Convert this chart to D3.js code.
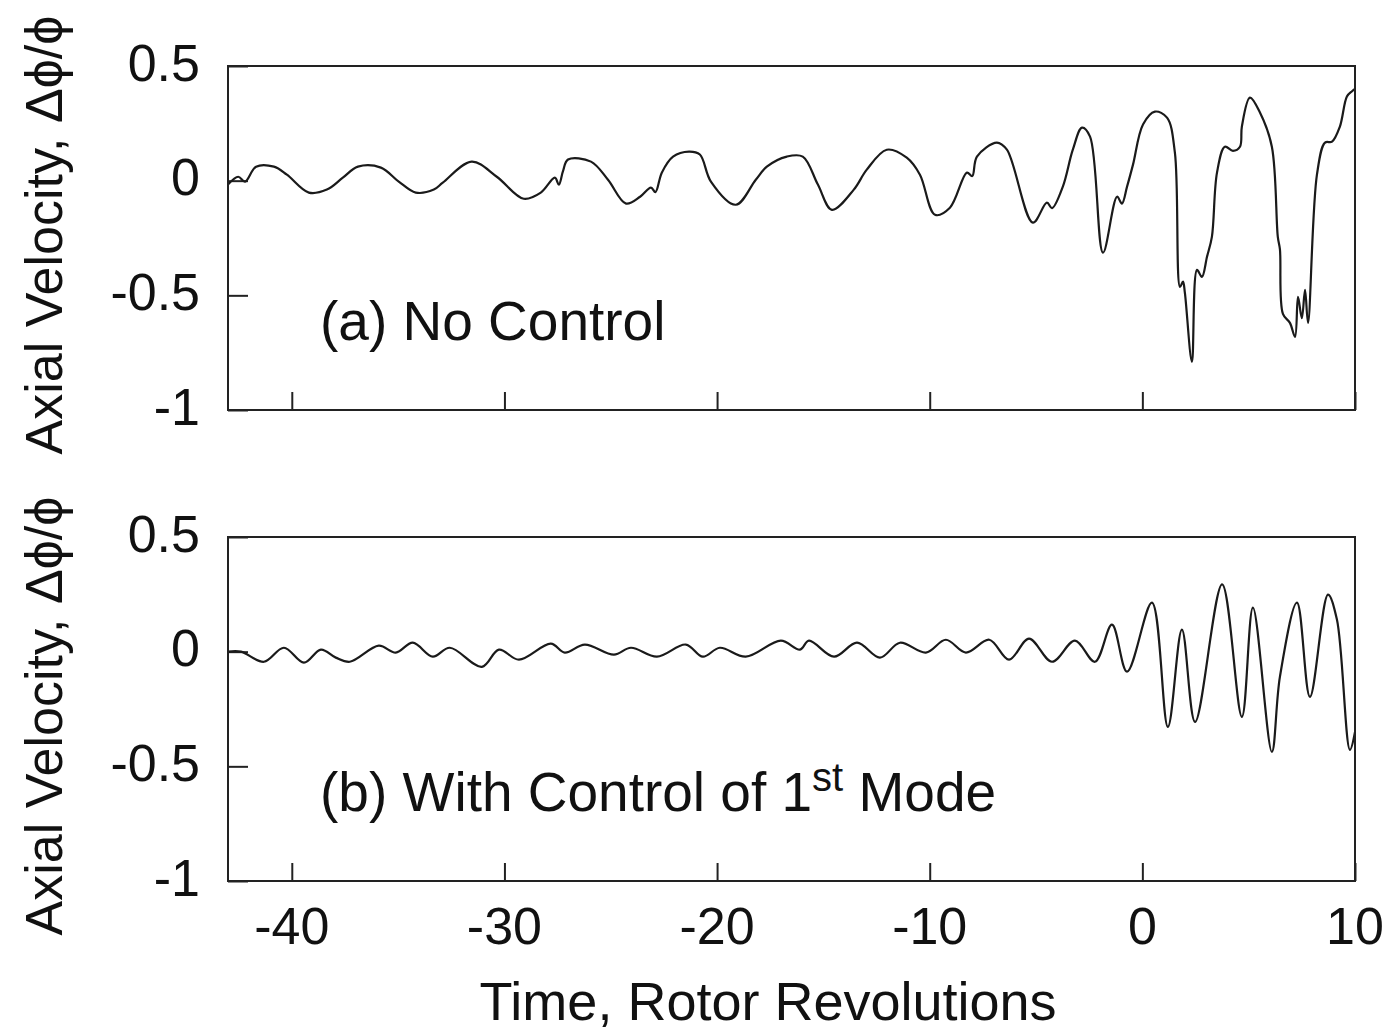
<!DOCTYPE html>
<html>
<head>
<meta charset="utf-8">
<script src="https://cdn.jsdelivr.net/npm/d3@7/dist/d3.min.js"></script>
<style>
  body { margin: 0; background: #fff; }
  text { font-family: 'Liberation Sans', Arial, Helvetica, sans-serif; fill: #111; }
</style>
</head>
<body>
<svg id="viz"></svg>
<script>
const width = 1393
const height = 1032

const xTicks = [-40, -30, -20, -10, 0, 10]
const yTicks = [0.5, 0, -0.5, -1]

// (a) no control: [time in rotor revs, delta phi / phi]
const noControl = [
  [-43.0, -0.017], [-42.52, 0.017], [-42.2, -0.004], [-41.68, 0.061], [-40.84, 0.061],
  [-40.23, 0.026], [-39.2, -0.052], [-38.35, -0.039], [-37.6, 0.013], [-36.89, 0.061],
  [-35.81, 0.057], [-34.97, -0.004], [-34.17, -0.052], [-33.32, -0.039], [-32.9, -0.009],
  [-31.54, 0.083], [-30.36, 0.017], [-29.09, -0.079], [-28.29, -0.052], [-27.63, 0.013],
  [-27.44, -0.017], [-27.25, 0.04], [-27.01, 0.092], [-25.93, 0.083], [-25.13, 0.004],
  [-24.28, -0.1], [-23.62, -0.07], [-23.11, -0.03], [-22.9, -0.05], [-22.6, 0.035],
  [-22.07, 0.105], [-21.32, 0.127], [-20.81, 0.114], [-20.29, -0.004], [-19.12, -0.105],
  [-18.18, 0.004], [-17.66, 0.061], [-16.72, 0.105], [-15.97, 0.105], [-15.26, -0.017],
  [-14.6, -0.127], [-13.57, -0.039], [-12.96, 0.048], [-12.02, 0.135], [-11.08, 0.1],
  [-10.46, 0.026], [-9.75, -0.149], [-9.05, -0.118], [-8.25, 0.035], [-8.0, 0.02],
  [-7.78, 0.105], [-6.84, 0.166], [-6.37, 0.135], [-5.15, -0.183], [-4.49, -0.096],
  [-4.25, -0.12], [-3.74, -0.026], [-3.27, 0.135], [-2.84, 0.231], [-2.46, 0.192],
  [-1.85, -0.314], [-1.19, -0.07], [-0.96, -0.1], [-0.72, -0.026], [-0.44, 0.07],
  [0.03, 0.245], [0.59, 0.301], [1.16, 0.275], [1.53, 0.122], [1.77, -0.463],
  [1.91, -0.44], [2.0, -0.489], [2.33, -0.79], [2.57, -0.389], [2.8, -0.42],
  [3.04, -0.332], [3.27, -0.245], [3.51, 0.035], [3.88, 0.148], [4.26, 0.13],
  [4.59, 0.148], [4.68, 0.236], [5.06, 0.362], [5.53, 0.297], [6.09, 0.148],
  [6.37, -0.245], [6.47, -0.3], [6.61, -0.581], [6.94, -0.62], [7.18, -0.681],
  [7.32, -0.507], [7.5, -0.6], [7.65, -0.476], [7.79, -0.62], [8.21, 0.026],
  [8.59, 0.166], [8.92, 0.17], [9.29, 0.236], [9.62, 0.367], [9.86, 0.39], [10.0, 0.4]
]

// (b) with control of 1st mode
const withControl = [
  [-43.0, 0.0], [-42.39, 0.0], [-41.31, -0.044], [-40.37, 0.017], [-39.43, -0.048],
  [-38.63, 0.009], [-37.93, -0.026], [-37.27, -0.044], [-35.91, 0.026], [-35.11, -0.004],
  [-34.31, 0.039], [-33.37, -0.022], [-32.57, 0.017], [-31.06, -0.066], [-30.26, 0.009],
  [-29.32, -0.035], [-27.82, 0.035], [-27.16, -0.004], [-26.22, 0.031], [-24.85, -0.013],
  [-24.05, 0.017], [-22.83, -0.022], [-21.47, 0.031], [-20.67, -0.022], [-19.87, 0.017],
  [-18.65, -0.022], [-17.0, 0.048], [-16.1, 0.009], [-15.68, 0.048], [-14.5, -0.022],
  [-13.42, 0.039], [-12.34, -0.026], [-11.4, 0.039], [-10.18, -0.004], [-9.24, 0.052],
  [-8.3, -0.004], [-7.2, 0.052], [-6.27, -0.035], [-5.33, 0.057], [-4.25, -0.044],
  [-3.17, 0.048], [-2.23, -0.044], [-1.43, 0.118], [-0.72, -0.087], [0.45, 0.214],
  [1.2, -0.328], [1.86, 0.096], [2.48, -0.306], [3.75, 0.293], [4.68, -0.284],
  [5.2, 0.192], [6.09, -0.437], [6.47, -0.109], [7.27, 0.214], [7.88, -0.197],
  [8.73, 0.249], [9.15, 0.14], [9.76, -0.428], [10.0, -0.35]
]

const panels = [
  { data: noControl, top: 66, titleY: 235, label: '(a) No Control', showX: false },
  { data: withControl, top: 537, titleY: 716, label: '(b) With Control of 1', sup: 'st', rest: ' Mode', showX: true }
]

const margin = { left: 228, right: 38 }
const plotH = 344

const svg = d3.select('#viz').attr('width', width).attr('height', height)
svg.append('rect').attr('width', width).attr('height', height).attr('fill', '#fff')

const x = d3.scaleLinear().domain([-43, 10]).range([margin.left, width - margin.right])

panels.forEach((p) => {
  const y = d3.scaleLinear().domain([-1, 0.5]).range([p.top + plotH, p.top])
  const g = svg.append('g')

  // inward ticks
  g.append('g')
    .attr('transform', `translate(${margin.left},0)`)
    .call(d3.axisRight(y).tickValues(yTicks).tickSize(20).tickFormat(''))
    .call((a) => a.select('.domain').remove())
    .selectAll('line').attr('stroke', '#222').attr('stroke-width', 2)

  g.append('g')
    .attr('transform', `translate(0,${p.top + plotH})`)
    .call(d3.axisTop(x).tickValues(xTicks).tickSize(18).tickFormat(''))
    .call((a) => a.select('.domain').remove())
    .selectAll('line').attr('stroke', '#222').attr('stroke-width', 2)

  // y tick labels
  g.selectAll('.ylab')
    .data(yTicks)
    .join('text')
    .attr('class', 'ylab')
    .attr('x', 200)
    .attr('y', (d) => y(d) - 4)
    .attr('dy', '0.36em')
    .attr('text-anchor', 'end')
    .attr('font-size', 52)
    .text((d) => d)

  if (p.showX) {
    g.selectAll('.xlab')
      .data(xTicks)
      .join('text')
      .attr('class', 'xlab')
      .attr('x', (d) => x(d))
      .attr('y', p.top + plotH + 63)
      .attr('text-anchor', 'middle')
      .attr('font-size', 52)
      .text((d) => d)
  }

  // trace
  const line = d3.line()
    .x((d) => x(d[0]))
    .y((d) => y(d[1]))
    .curve(d3.curveCatmullRom.alpha(0.5))

  g.append('path')
    .datum(p.data)
    .attr('d', line)
    .attr('fill', 'none')
    .attr('stroke', '#1a1a1a')
    .attr('stroke-width', 2.2)
    .attr('stroke-linejoin', 'round')

  // frame
  g.append('rect')
    .attr('x', margin.left)
    .attr('y', p.top)
    .attr('width', width - margin.right - margin.left)
    .attr('height', plotH)
    .attr('fill', 'none')
    .attr('stroke', '#222')
    .attr('stroke-width', 2)

  // panel label
  const lab = g.append('text')
    .attr('x', 320)
    .attr('y', p.top + 274)
    .attr('font-size', 55)
    .text(p.label)
  if (p.sup) {
    lab.append('tspan').attr('font-size', 40).attr('dy', -20).text(p.sup)
    lab.append('tspan').attr('font-size', 55).attr('dy', 20).text(p.rest)
  }

  // y axis title
  svg.append('text')
    .attr('transform', `translate(62,${p.titleY}) rotate(-90)`)
    .attr('text-anchor', 'middle')
    .attr('font-size', 52)
    .text('Axial Velocity, Δϕ/ϕ')
})

svg.append('text')
  .attr('x', 768)
  .attr('y', 1020)
  .attr('text-anchor', 'middle')
  .attr('font-size', 54)
  .text('Time, Rotor Revolutions')
</script>
</body>
</html>
